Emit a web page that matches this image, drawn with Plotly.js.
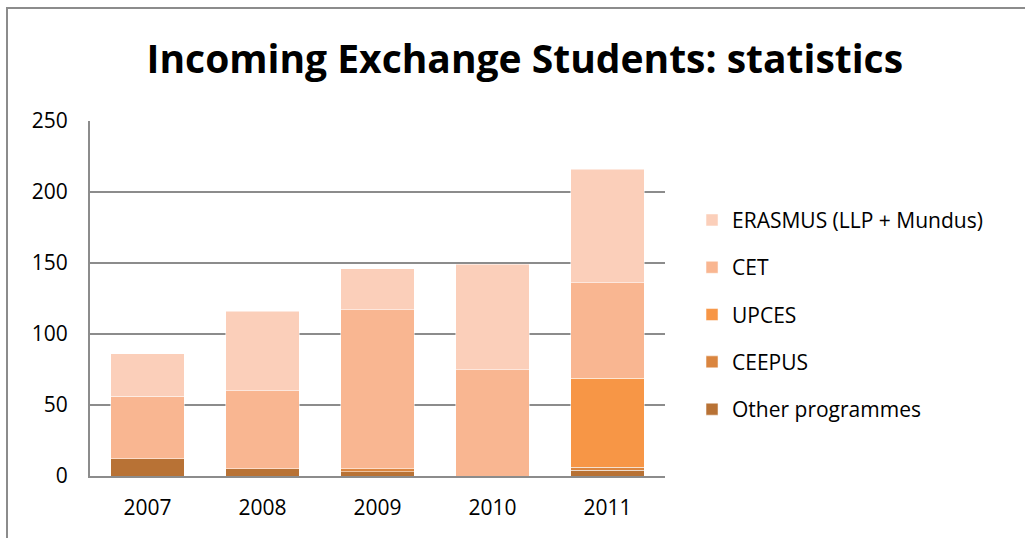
<!DOCTYPE html>
<html><head><meta charset="utf-8">
<script src="https://cdn.plot.ly/plotly-3.0.1.min.js"></script>
<style>
html,body{margin:0;padding:0;background:#fff;}
#chart{width:1025px;height:538px;}
#frame{position:absolute;left:6px;top:7px;width:1030px;height:540px;border-left:2px solid #8c8c8c;border-top:2px solid #8c8c8c;pointer-events:none;}
</style></head>
<body>
<div id="chart"></div>
<div id="frame"></div>
<script>
const years = ['2007','2008','2009','2010','2011'];
const other = [12, 5, 3, 0, 4];
const ceepus = [0, 0, 2, 0, 2];
const upces = [0, 0, 0, 0, 63];
const cet = [44, 55, 112, 75, 67];
const erasmus = [30, 56, 29, 74, 80];
const seriesNames = ['Other programmes','CEEPUS','UPCES','CET','ERASMUS (LLP + Mundus)'];
const seriesColors = ['#B87235','#DA853F','#F79646','#F9B691','#FBCFBA'];
const seriesData = [other, ceepus, upces, cet, erasmus];

const traces = seriesData.map((d,i)=>({
  type:'bar', x:years, y:d, name:seriesNames[i], legendgroup:'g'+i,
  legendrank: 1000 - i,
  marker:{color:seriesColors[i], line:{color:'rgba(255,255,255,0.5)', width:1}},
  hoverinfo:'x+y+name'
}));

const layout = {
  width:1025, height:538,
  paper_bgcolor:'#fff', plot_bgcolor:'#fff',
  barmode:'stack', bargap:0.36,
  margin:{l:90, r:360, t:121, b:62},
  title:{text:'<b>Incoming Exchange Students: statistics</b>', x:0.512, xanchor:'center', y:0.89, yanchor:'middle',
    font:{family:'Open Sans, Liberation Sans, sans-serif', size:39, color:'#000'}},
  font:{family:'Open Sans, Liberation Sans, sans-serif', size:21, color:'#000'},
  xaxis:{showline:true, linecolor:'#8c8c8c', linewidth:2, ticks:'', showgrid:false,
    tickfont:{size:21}, ticklabelstandoff:12},
  yaxis:{range:[0,250], dtick:50, showline:true, linecolor:'#8c8c8c', linewidth:2,
    showgrid:true, gridcolor:'#8c8c8c', gridwidth:2, zeroline:false, ticks:'',
    tickfont:{size:21}, ticklabelstandoff:16},
  legend:{x:1.047, y:0.778, xanchor:'left', yanchor:'top', traceorder:'grouped',
    font:{size:21}, tracegroupgap:17, itemwidth:30, bgcolor:'rgba(0,0,0,0)'},
  showlegend:true
};
Plotly.newPlot('chart', traces, layout, {displayModeBar:false, staticPlot:true});
</script>
</body></html>
